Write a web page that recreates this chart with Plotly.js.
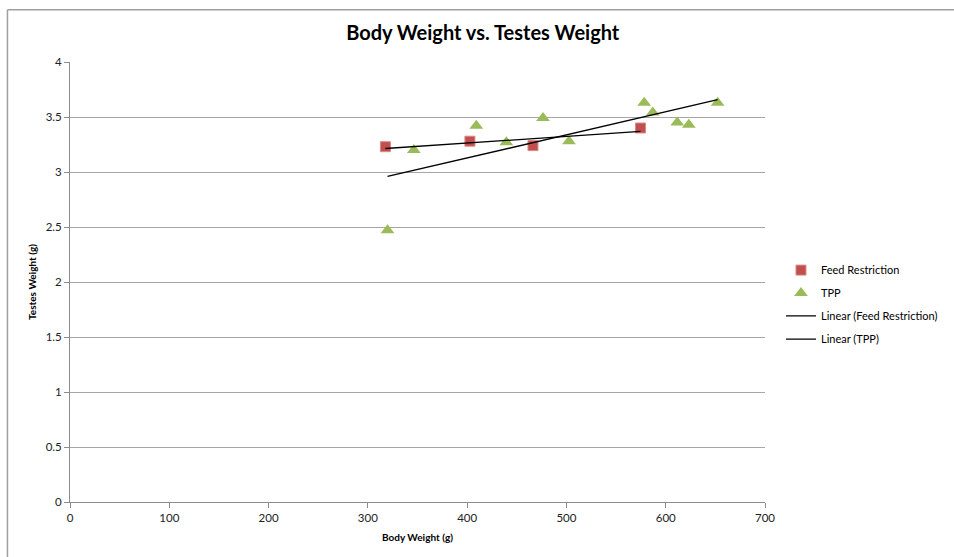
<!DOCTYPE html>
<html>
<head>
<meta charset="utf-8">
<script src="https://cdn.plot.ly/plotly-3.0.1.min.js"></script>
<style>
html,body{margin:0;padding:0;background:#fff;}
#chart{width:954px;height:557px;}
</style>
</head>
<body>
<div id="chart"></div>
<script>
// Feed Restriction series
const feedX = [317.7, 402.8, 466.3, 574.6];
const feedY = [3.23, 3.28, 3.24, 3.40];
// TPP series
const tppX = [319.8, 346.3, 409.2, 439.5, 476.4, 502.6, 578.3, 587.0, 611.6, 623.3, 652.3];
const tppY = [2.47, 3.20, 3.42, 3.27, 3.49, 3.28, 3.63, 3.54, 3.45, 3.43, 3.63];

const xTicks = [0, 100, 200, 300, 400, 500, 600, 700];
const yTicks = [0, 0.5, 1, 1.5, 2, 2.5, 3, 3.5, 4];

function linfit(xs, ys) {
  const n = xs.length;
  const mx = xs.reduce((a, b) => a + b, 0) / n;
  const my = ys.reduce((a, b) => a + b, 0) / n;
  let sxy = 0, sxx = 0;
  for (let i = 0; i < n; i++) { sxy += (xs[i] - mx) * (ys[i] - my); sxx += (xs[i] - mx) ** 2; }
  const m = sxy / sxx, b = my - m * mx;
  const x0 = Math.min(...xs), x1 = Math.max(...xs);
  return { x: [x0, x1], y: [m * x0 + b, m * x1 + b] };
}
const feedFit = linfit(feedX, feedY);
const tppFit = linfit(tppX, tppY);

const FONT = 'Lato, "Liberation Sans", sans-serif';

const traces = [
  { x: feedX, y: feedY, type: 'scatter', mode: 'markers', name: 'Feed Restriction', legend: 'legend',
    marker: { symbol: 'square', size: 10, color: '#C0504D', line: { width: 1, color: '#D98A88' } } },
  { x: tppX, y: tppY, type: 'scatter', mode: 'markers', name: 'TPP', legend: 'legend2',
    marker: { symbol: 'triangle-up', size: 12, color: '#9BBB59', line: { width: 0 } } },
  { x: feedFit.x, y: feedFit.y, type: 'scatter', mode: 'lines', name: 'Linear (Feed Restriction)', legend: 'legend3',
    line: { color: '#000000', width: 1.3 } },
  { x: tppFit.x, y: tppFit.y, type: 'scatter', mode: 'lines', name: 'Linear (TPP)', legend: 'legend4',
    line: { color: '#000000', width: 1.3 } }
];

function leg(y) {
  return { x: 1.023, y: y, xanchor: 'left', yanchor: 'middle',
           font: { family: FONT, size: 11, color: '#000' }, bgcolor: 'rgba(0,0,0,0)', borderwidth: 0 };
}

const layout = {
  width: 954, height: 557,
  margin: { l: 70, r: 189, t: 62, b: 55, autoexpand: false },
  paper_bgcolor: '#ffffff', plot_bgcolor: '#ffffff',
  font: { family: FONT, size: 11, color: '#222' },
  title: { text: '<b>Body Weight vs. Testes Weight</b>', font: { family: FONT, size: 20, color: '#000' },
           x: 0.506, xref: 'container', xanchor: 'center', y: 0.94, yref: 'container', yanchor: 'middle' },
  xaxis: {
    range: [0, 700], tickvals: xTicks, ticktext: xTicks.map(String),
    showgrid: false, zeroline: false, showline: true, linecolor: '#8c8c8c', linewidth: 1,
    ticks: 'outside', ticklen: 5, tickcolor: '#8c8c8c', tickfont: { family: FONT, size: 11.5, color: '#222' },
    title: { text: '<b>Body Weight (g)</b>', font: { family: FONT, size: 10, color: '#000' }, standoff: 11 }
  },
  yaxis: {
    range: [0, 4], tickvals: yTicks, ticktext: yTicks.map(String),
    showgrid: true, gridcolor: '#a6a6a6', gridwidth: 1, zeroline: false,
    showline: true, linecolor: '#8c8c8c', linewidth: 1,
    ticks: 'outside', ticklen: 5, tickcolor: '#8c8c8c', tickfont: { family: FONT, size: 11.5, color: '#222' },
    title: { text: '<b>Testes Weight (g)</b>', font: { family: FONT, size: 10, color: '#000' }, standoff: 7 }
  },
  legend: leg(0.527),
  legend2: leg(0.475),
  legend3: leg(0.423),
  legend4: leg(0.370),
  showlegend: true,
  shapes: [
    { type: 'line', xref: 'paper', yref: 'paper', x0: -0.09, x1: 1.5, y0: 1.1185, y1: 1.1185, line: { color: '#a0a0a0', width: 1.5 } },
    { type: 'line', xref: 'paper', yref: 'paper', x0: -0.09, x1: -0.09, y0: -0.3, y1: 1.1185, line: { color: '#a0a0a0', width: 1.5 } }
  ]
};

Plotly.newPlot('chart', traces, layout, { displayModeBar: false, staticPlot: true });
</script>
</body>
</html>
